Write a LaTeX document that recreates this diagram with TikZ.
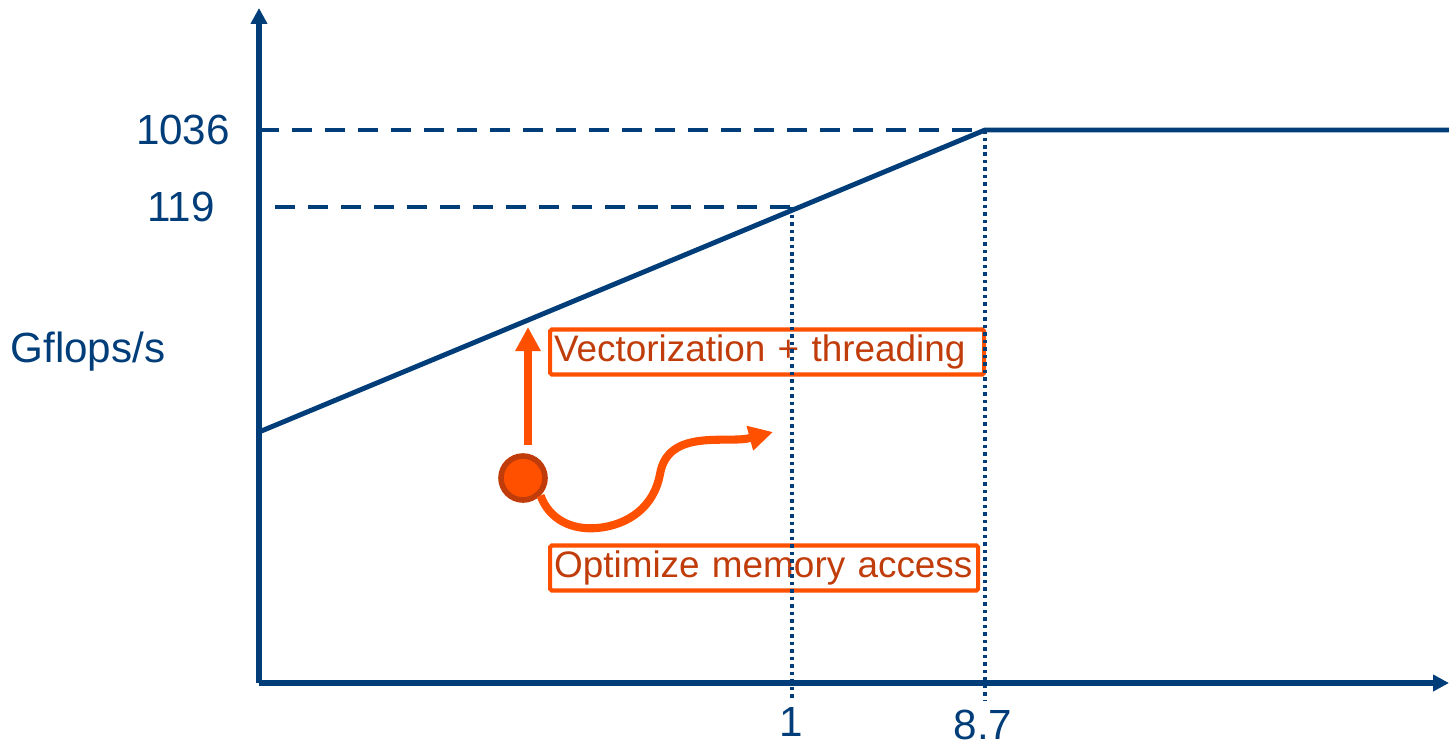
\documentclass[tikz,border=0pt]{standalone}
\usepackage{fontspec}
\setmainfont{Liberation Sans}
\usetikzlibrary{arrows.meta, positioning}
\definecolor{roofblue}{RGB}{0,61,121}
\definecolor{hintorange}{RGB}{255,80,0}
\definecolor{hinttext}{RGB}{192,60,10}
\tikzset{
	axis/.style={roofblue, line width=1.8pt, -{Triangle[length=0.16cm, width=0.16cm]}},
	roof/.style={roofblue, line width=1.4pt},
	guide/.style={roofblue, line width=1.4pt, dash pattern=on 0.2cm off 0.13cm},
	tick/.style={roofblue, line width=1.3pt, dash pattern=on 0.035cm off 0.04cm},
	ticklabel/.style={roofblue, font=\fontsize{12}{14}\selectfont},
	hintbox/.style={draw=hintorange, line width=1.2pt, rounded corners=0.5pt, text=hinttext,
		font=\fontsize{10.5}{13}\selectfont, inner xsep=0.04cm, inner ysep=0.02cm,
		minimum height=0.45cm, align=left, anchor=west},
	hintarrow/.style={hintorange, line width=2.3pt, -{Triangle[length=0.24cm, width=0.24cm]}}
}
\begin{document}
\begin{tikzpicture}
		\useasboundingbox (0,0) rectangle (14.49,7.44);
		  % Points
		\coordinate (o) at (2.59,0.61);
		  \coordinate (ytip) at (2.59,7.36);
		  \coordinate (xtip) at (14.49,0.61);
		  \coordinate (s) at (2.59,3.12);
		  \coordinate (knee) at (9.85,6.14);
		  \coordinate (roofend) at (14.49,6.14);
		  \coordinate (p119) at (8.00,5.37);
		  \coordinate (d119) at (7.92,5.37);
		  \coordinate (b119) at (7.92,0.44);
		  \coordinate (bknee) at (9.85,0.44);
		  \coordinate (l1036) at (2.59,6.14);
		  \coordinate (l119) at (2.75,5.37);
		  \coordinate (vup) at (5.28,4.17);
		  \coordinate (vlow) at (5.28,2.99);
		  \coordinate (mend) at (7.73,3.12);

		  % Nodes
		\node[ticklabel] (n1036) at (1.83,6.14) {1036};
		  \node[ticklabel] (n119) at (1.81,5.37) {119};
		  \node[ticklabel] (gflops) at (0.88,3.92) {Gflops/s};
		  \node[ticklabel] (n1) at (7.91,0.22) {1};
		  \node[ticklabel] (n87) at (9.83,0.19) {8.7};
		  \node[hintbox, text width=4.26cm] (vec) at (5.48,3.92) {Vectorization + threading};
		  \node[hintbox, text width=4.20cm] (mem) at (5.48,1.76) {Optimize memory access};
		  \node[circle, fill=hintorange, draw=hinttext, line width=1.6pt, minimum size=0.44cm,
			inner sep=0pt] (dot) at (5.23,2.66) {};

		  % Edges
		  \draw[guide] (l1036) -- (knee);
		  \draw[guide] (l119) -- (p119);
		  \draw[tick] (d119) -- (b119);
		  \draw[tick] (knee) -- (bknee);
		  \draw[roof] (s) -- (knee) -- (roofend);
		  \draw[axis] (o) -- (ytip);
		  \draw[axis] (o) -- (xtip);
		  \draw[hintarrow] (vlow) -- (vup);
		  \draw[hintarrow] (dot.-45) to[out=-70, in=185] (5.97,2.16)
			to[out=5, in=-100] (6.60,2.70) to[out=80, in=195] (mend);
\end{tikzpicture}
\end{document}
